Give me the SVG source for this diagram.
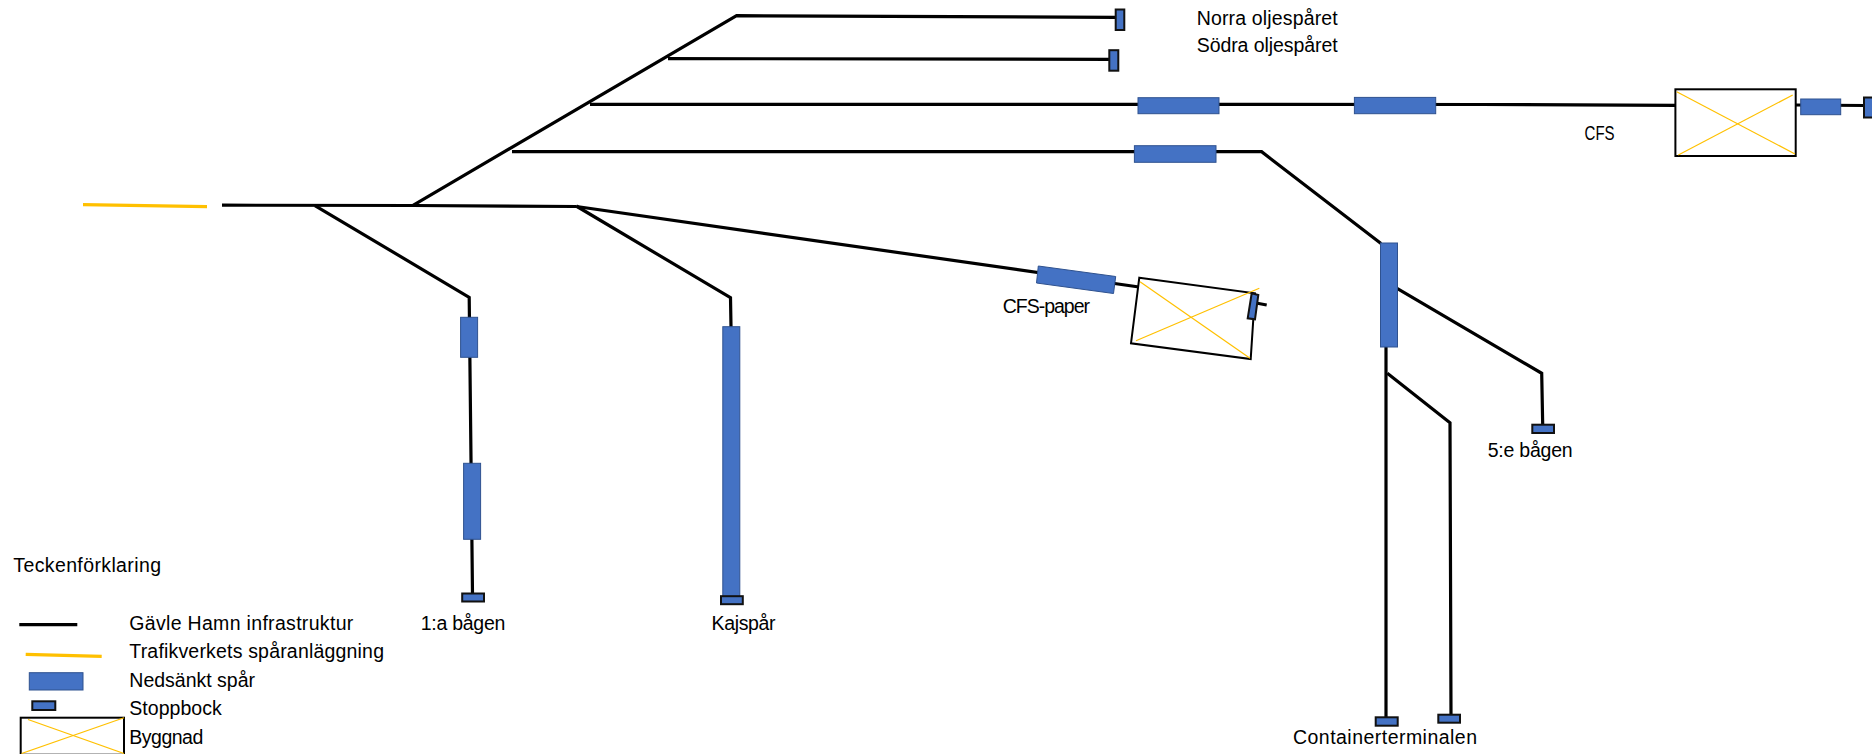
<svg xmlns="http://www.w3.org/2000/svg" width="1872" height="754" viewBox="0 0 1872 754">
<style>
.trk{fill:none;stroke:#000;stroke-width:3.2;stroke-linejoin:miter;stroke-linecap:butt}
.tv{fill:none;stroke:#FFC000;stroke-width:3.4}
.sunk{fill:#4472C4;stroke:#2F528F;stroke-width:1}
.stop{fill:#4472C4;stroke:#111;stroke-width:2}
.bld{fill:#fff;stroke:#000;stroke-width:2}
.cross{fill:none;stroke:#FFC000;stroke-width:1.2}
text{font-family:"Liberation Sans",Arial,sans-serif;font-size:19.5px;fill:#000}
</style>
<rect width="1872" height="754" fill="#fff"/>
<g id="connectors">
<line class="tv" x1="83" y1="204.6" x2="207" y2="206.6"/>
<polyline class="trk" points="222,205.2 413,205.5 576.5,206.5"/>
<polyline class="trk" points="413,205.3 736.6,15.7 1116,17.3"/>
<line class="trk" x1="668" y1="58.6" x2="1110" y2="59.3"/>
<polyline class="trk" points="590,104.3 1482,104.5 1676,105.3"/>
<line class="trk" x1="1795.7" y1="105" x2="1865" y2="105.5"/>
<polyline class="trk" points="512,151.7 1261.6,151.7 1381,243.5"/>
<line class="trk" x1="1386" y1="346" x2="1386" y2="718"/>
<polyline class="trk" points="1387.3,373.3 1450,422.7 1451,715"/>
<polyline class="trk" points="1397,288.3 1541.7,373.3 1542.7,425"/>
<polyline class="trk" points="314.9,205.6 469.2,297.3 472.5,594"/>
<polyline class="trk" points="576.2,206 730.5,297.7 731,327"/>
<line class="trk" x1="576.5" y1="206.5" x2="1139" y2="287"/>
<line class="trk" x1="1256" y1="303" x2="1266.7" y2="305"/>
</g>
<g id="norra-oljesparet">
<rect class="stop" x="1115.7" y="9.5" width="8.6" height="20.5"/>
<text x="1196.7" y="25" textLength="141" lengthAdjust="spacing">Norra oljespåret</text>
</g>
<g id="sodra-oljesparet">
<rect class="stop" x="1109.3" y="50.2" width="9" height="20.5"/>
<text x="1196.7" y="52.3" textLength="141" lengthAdjust="spacing">Södra oljespåret</text>
</g>
<g id="cfs">
<rect class="sunk" x="1138" y="97.7" width="81" height="16"/>
<rect class="sunk" x="1354.4" y="97.4" width="81.3" height="16.3"/>
<rect class="bld" x="1675.4" y="89.3" width="120.3" height="66.7"/>
<line class="cross" x1="1676.7" y1="91.7" x2="1795" y2="154"/>
<line class="cross" x1="1678.3" y1="155" x2="1792.7" y2="95"/>
<rect class="sunk" x="1800.7" y="99" width="40" height="15.7"/>
<rect class="stop" x="1864" y="97.5" width="10" height="20"/>
<text x="1584.6" y="140" textLength="30" lengthAdjust="spacingAndGlyphs">CFS</text>
</g>
<g id="containerterminalen">
<rect class="sunk" x="1134.4" y="145.7" width="81.6" height="16.6"/>
<rect class="sunk" x="1380.5" y="243" width="17" height="104"/>
<rect class="stop" x="1375.7" y="717.3" width="22" height="8.4"/>
<rect class="stop" x="1438.3" y="714.7" width="21.7" height="8"/>
<text x="1293" y="744.3" textLength="184" lengthAdjust="spacing">Containerterminalen</text>
</g>
<g id="femte-bagen">
<rect class="stop" x="1532.3" y="424.7" width="21.7" height="8.3"/>
<text x="1487.7" y="456.7" textLength="85" lengthAdjust="spacing">5:e bågen</text>
</g>
<g id="forsta-bagen">
<rect class="sunk" x="460.6" y="317.3" width="17" height="40"/>
<rect class="sunk" x="463.6" y="463.3" width="17" height="76"/>
<rect class="stop" x="462.2" y="593.5" width="21.8" height="8"/>
<text x="420.8" y="630" textLength="84.5" lengthAdjust="spacing">1:a bågen</text>
</g>
<g id="kajspar">
<rect class="sunk" x="722.8" y="326.7" width="17" height="270"/>
<rect class="stop" x="721" y="596.2" width="21.8" height="8"/>
<text x="711.6" y="630" textLength="63.8" lengthAdjust="spacing">Kajspår</text>
</g>
<g id="cfs-paper">
<polygon class="sunk" points="1038.3,266 1115.7,276.5 1113.5,293.5 1036.5,283"/>
<polygon class="bld" points="1139.3,277.7 1255,293.3 1250.7,359 1131,343.3"/>
<line class="cross" x1="1140" y1="281.7" x2="1250" y2="358.3"/>
<line class="cross" x1="1136" y1="340.7" x2="1259.3" y2="288.3"/>
<polygon class="stop" points="1251.7,293.3 1258.3,295 1255,319.3 1247.7,318.3"/>
<text x="1002.7" y="312.7" textLength="87.3" lengthAdjust="spacing">CFS-paper</text>
</g>
<g id="legend">
<text x="13.3" y="572.3" textLength="147.7" lengthAdjust="spacing">Teckenförklaring</text>
<line x1="19.3" y1="624.7" x2="77.3" y2="624.7" stroke="#000" stroke-width="3.2"/>
<text x="129.3" y="630" textLength="224" lengthAdjust="spacing">Gävle Hamn infrastruktur</text>
<line class="tv" x1="25.7" y1="654.4" x2="101.7" y2="656.4"/>
<text x="129.3" y="658.3" textLength="254.7" lengthAdjust="spacing">Trafikverkets spåranläggning</text>
<rect class="sunk" x="29.3" y="672.7" width="53.7" height="17.3"/>
<text x="129.3" y="686.7" textLength="125.7" lengthAdjust="spacing">Nedsänkt spår</text>
<rect class="stop" x="32.3" y="701.3" width="23" height="8.7"/>
<text x="129.3" y="715" textLength="92.4" lengthAdjust="spacing">Stoppbock</text>
<rect class="bld" x="20.7" y="717.7" width="103.3" height="37"/>
<line class="cross" x1="28" y1="719.5" x2="124" y2="753.5"/>
<line class="cross" x1="21.5" y1="753.5" x2="124" y2="717.7"/>
<text x="129.3" y="744" textLength="74" lengthAdjust="spacing">Byggnad</text>
</g>
</svg>
